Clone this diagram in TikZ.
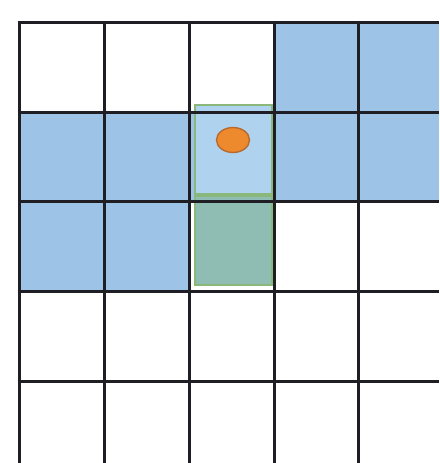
\documentclass[tikz,border=0pt]{standalone}
\usetikzlibrary{shapes.geometric}
\begin{document}
\begin{tikzpicture}[x=1pt,y=-1pt,
  cell/.style={fill=cellblue},
  gridline/.style={draw=gridc,line width=3pt},
  ]
\definecolor{cellblue}{HTML}{9DC3E6}
\definecolor{lightblue}{HTML}{AFD2EF}
\definecolor{tealc}{HTML}{8FBDB3}
\definecolor{greenc}{HTML}{8AB87A}
\definecolor{gridc}{HTML}{1E1E24}
\definecolor{orangec}{HTML}{EE8A2E}
\definecolor{orangeedge}{HTML}{B86A2E}
\useasboundingbox (0,0) rectangle (439,463);
\fill[white] (0,0) rectangle (439,463);
% blue cells
\fill[cellblue] (274,22) rectangle (439,112);
\fill[cellblue] (19,112) rectangle (439,201);
\fill[cellblue] (19,201) rectangle (189,291);
% highlighted column
\fill[lightblue] (195,105) rectangle (272,196);
\fill[tealc] (195,196) rectangle (272,285);
\draw[greenc,line width=1.8pt] (195,105) rectangle (272,285);
\draw[greenc,line width=3.5pt] (195,195) -- (272,195);
% grid
\foreach \x in {19,104,189,274,358} \draw[gridline] (\x,20.5) -- (\x,463);
\foreach \y in {22,112,201,291,381} \draw[gridline] (17.5,\y) -- (439,\y);
% point
\node[ellipse,draw=orangeedge,fill=orangec,line width=1.4pt,minimum width=33pt,minimum height=25pt,inner sep=0pt] (pt) at (233,140) {};
\end{tikzpicture}
\end{document}
